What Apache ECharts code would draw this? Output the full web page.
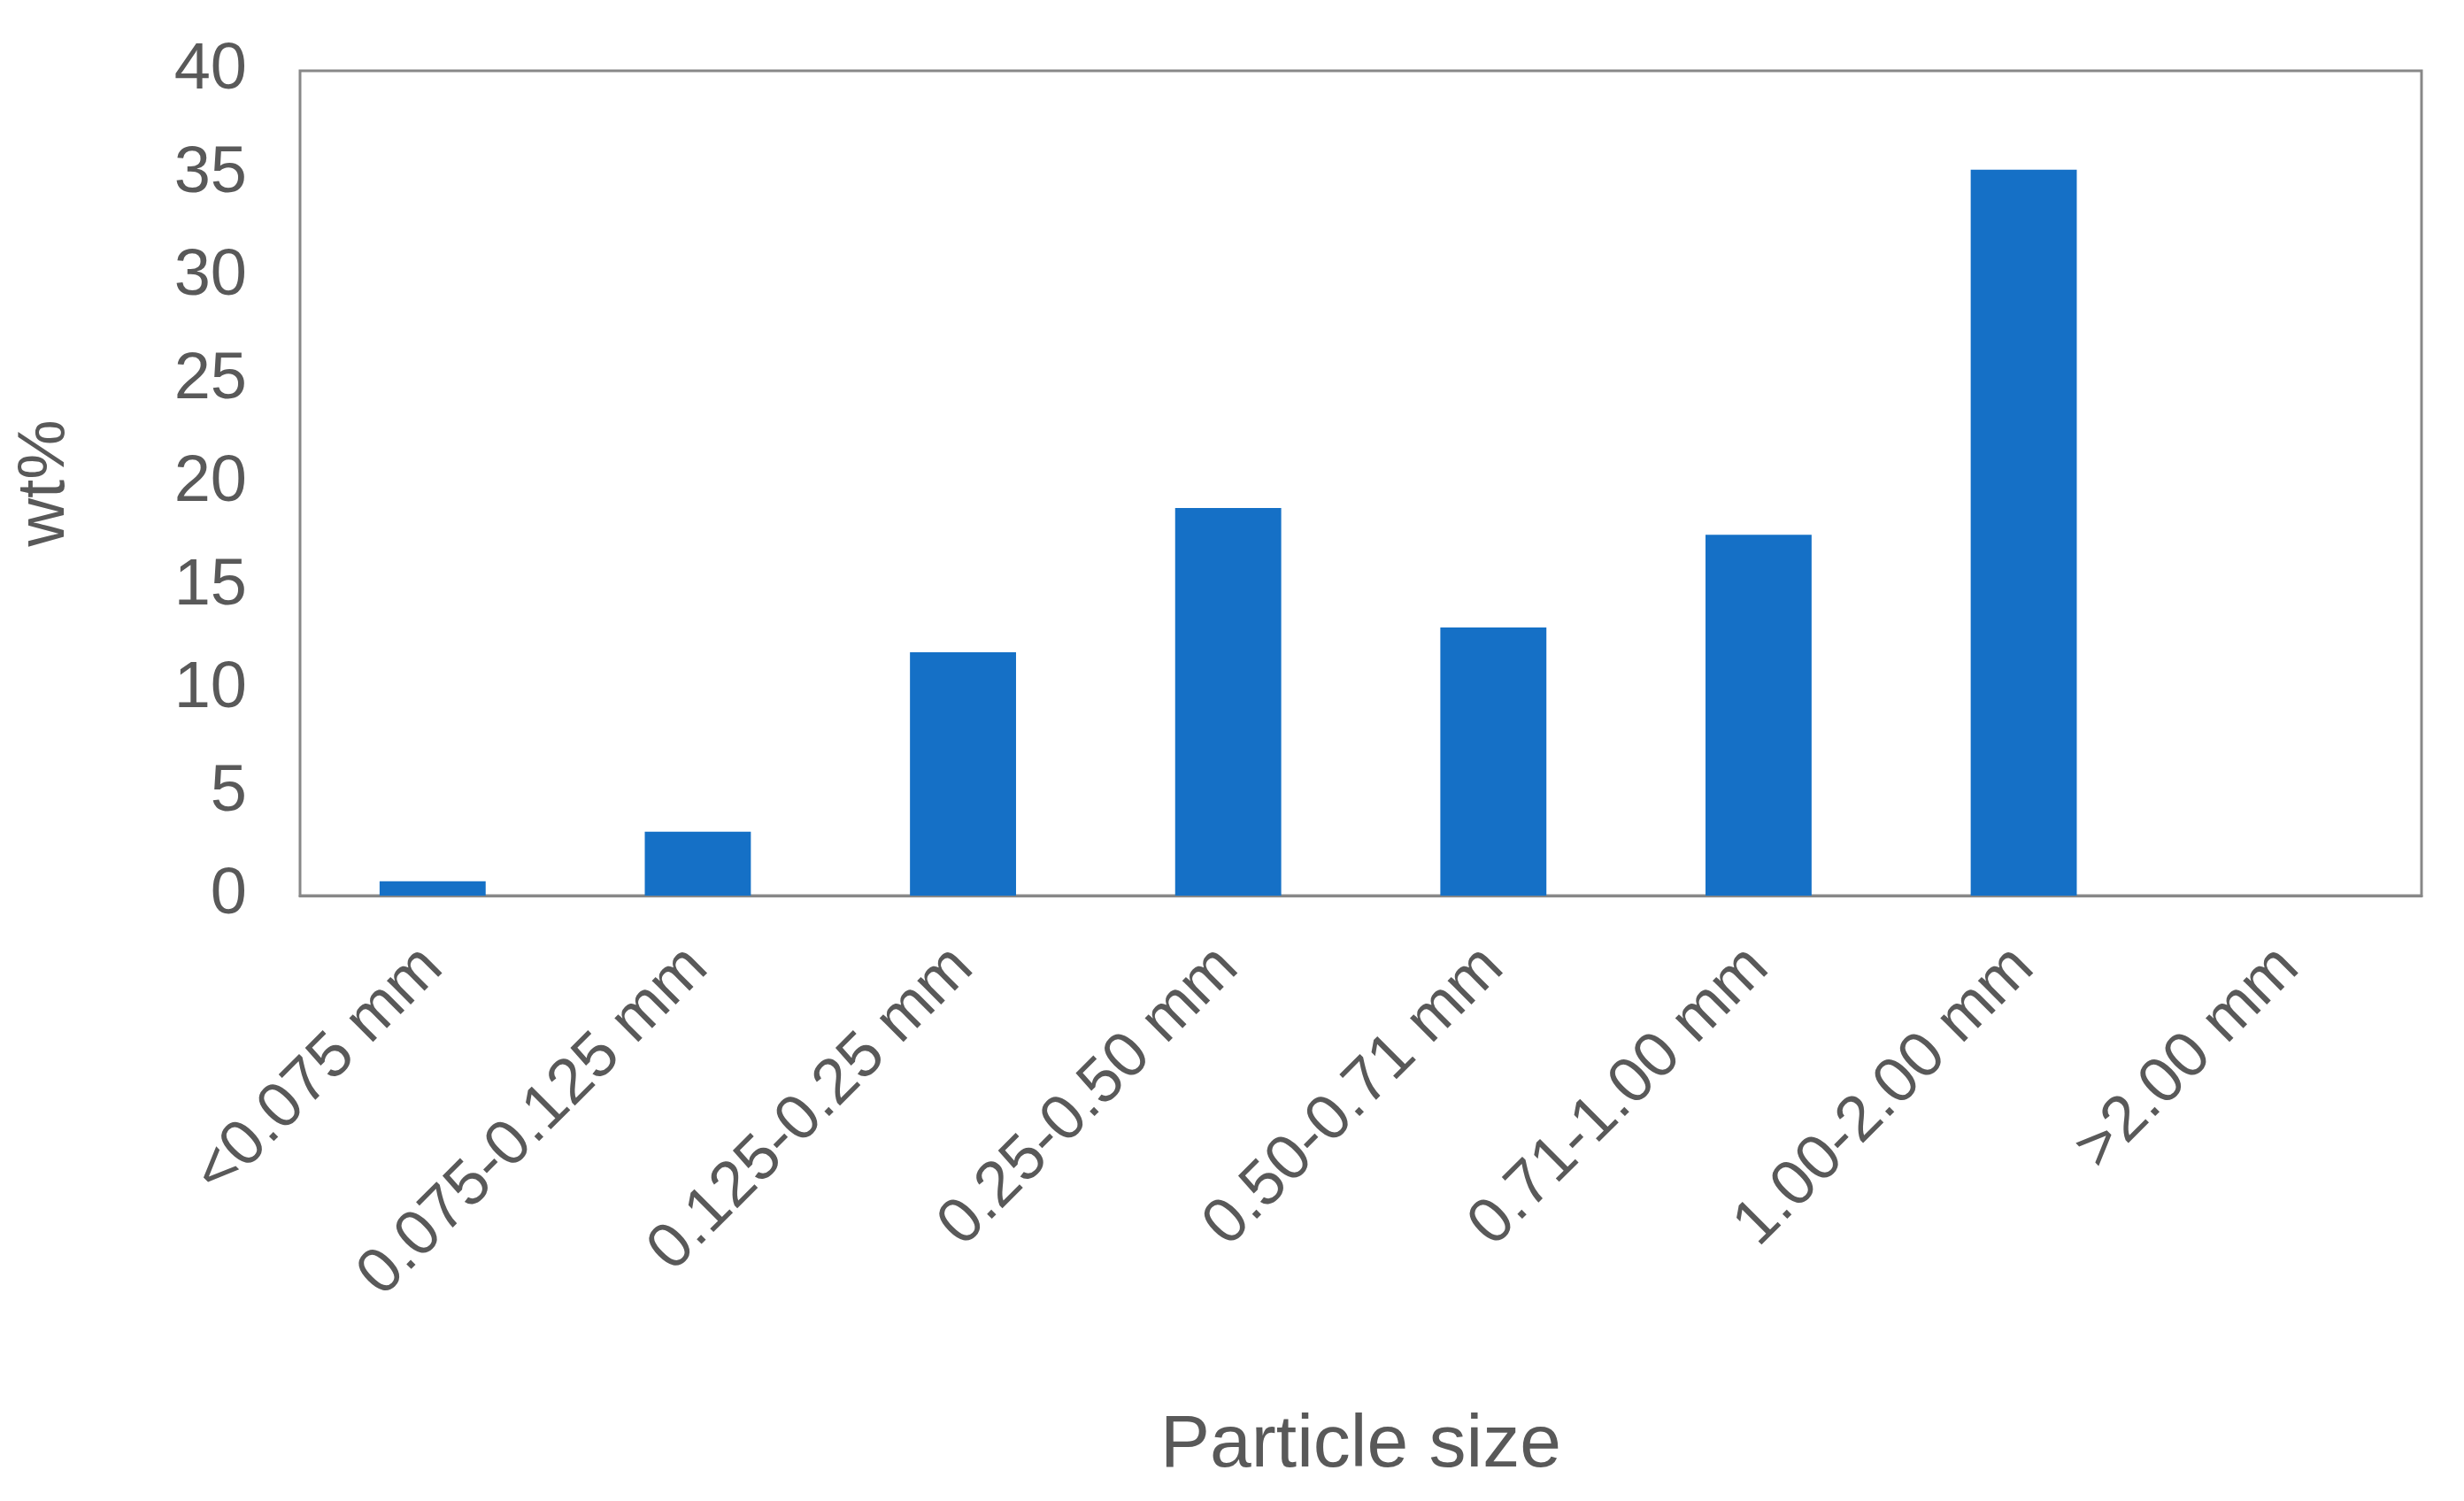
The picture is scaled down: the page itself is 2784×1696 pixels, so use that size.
<!DOCTYPE html>
<html><head><meta charset="utf-8">
<script src="https://cdn.jsdelivr.net/npm/echarts@6/dist/echarts.min.js"></script>
<style>html,body{margin:0;padding:0;background:#fff}#c{width:2784px;height:1696px}</style>
</head><body><div id="c"></div>
<script>
const categories = ['<0.075 mm','0.075-0.125 mm','0.125-0.25 mm','0.25-0.50 mm','0.50-0.71 mm','0.71-1.00 mm','1.00-2.00 mm','>2.00 mm'];
const values = [0.7, 3.1, 11.8, 18.8, 13.0, 17.5, 35.2, 0];
const yTicks = {min: 0, max: 40, interval: 5};
const chart = echarts.init(document.getElementById('c'));
const txt = '#595959', font = 'Liberation Sans';
chart.setOption({
  animation: false,
  textStyle: {fontFamily: font},
  grid: {left: 339, right: 48, top: 80, bottom: 684, show: true, borderColor: '#888', borderWidth: 3, backgroundColor: 'transparent'},
  xAxis: {
    type: 'category', data: categories,
    name: 'Particle size', nameLocation: 'middle', nameGap: 580,
    nameTextStyle: {fontSize: 84, color: txt, fontFamily: font},
    axisLine: {lineStyle: {color: '#888', width: 3}},
    axisTick: {show: false},
    axisLabel: {rotate: 45, fontSize: 72, color: txt, margin: 70, interval: 0, fontFamily: font}
  },
  yAxis: {
    type: 'value', min: yTicks.min, max: yTicks.max, interval: yTicks.interval,
    name: 'wt%', nameLocation: 'middle', nameGap: 250, nameRotate: 90,
    nameTextStyle: {fontSize: 76, color: txt, fontFamily: font},
    splitLine: {show: false}, axisLine: {show: false}, axisTick: {show: false},
    axisLabel: {fontSize: 74, color: txt, margin: 60, fontFamily: font}
  },
  series: [{type: 'bar', data: values, barWidth: '40%', itemStyle: {color: '#1570C6'}}]
});
</script></body></html>
